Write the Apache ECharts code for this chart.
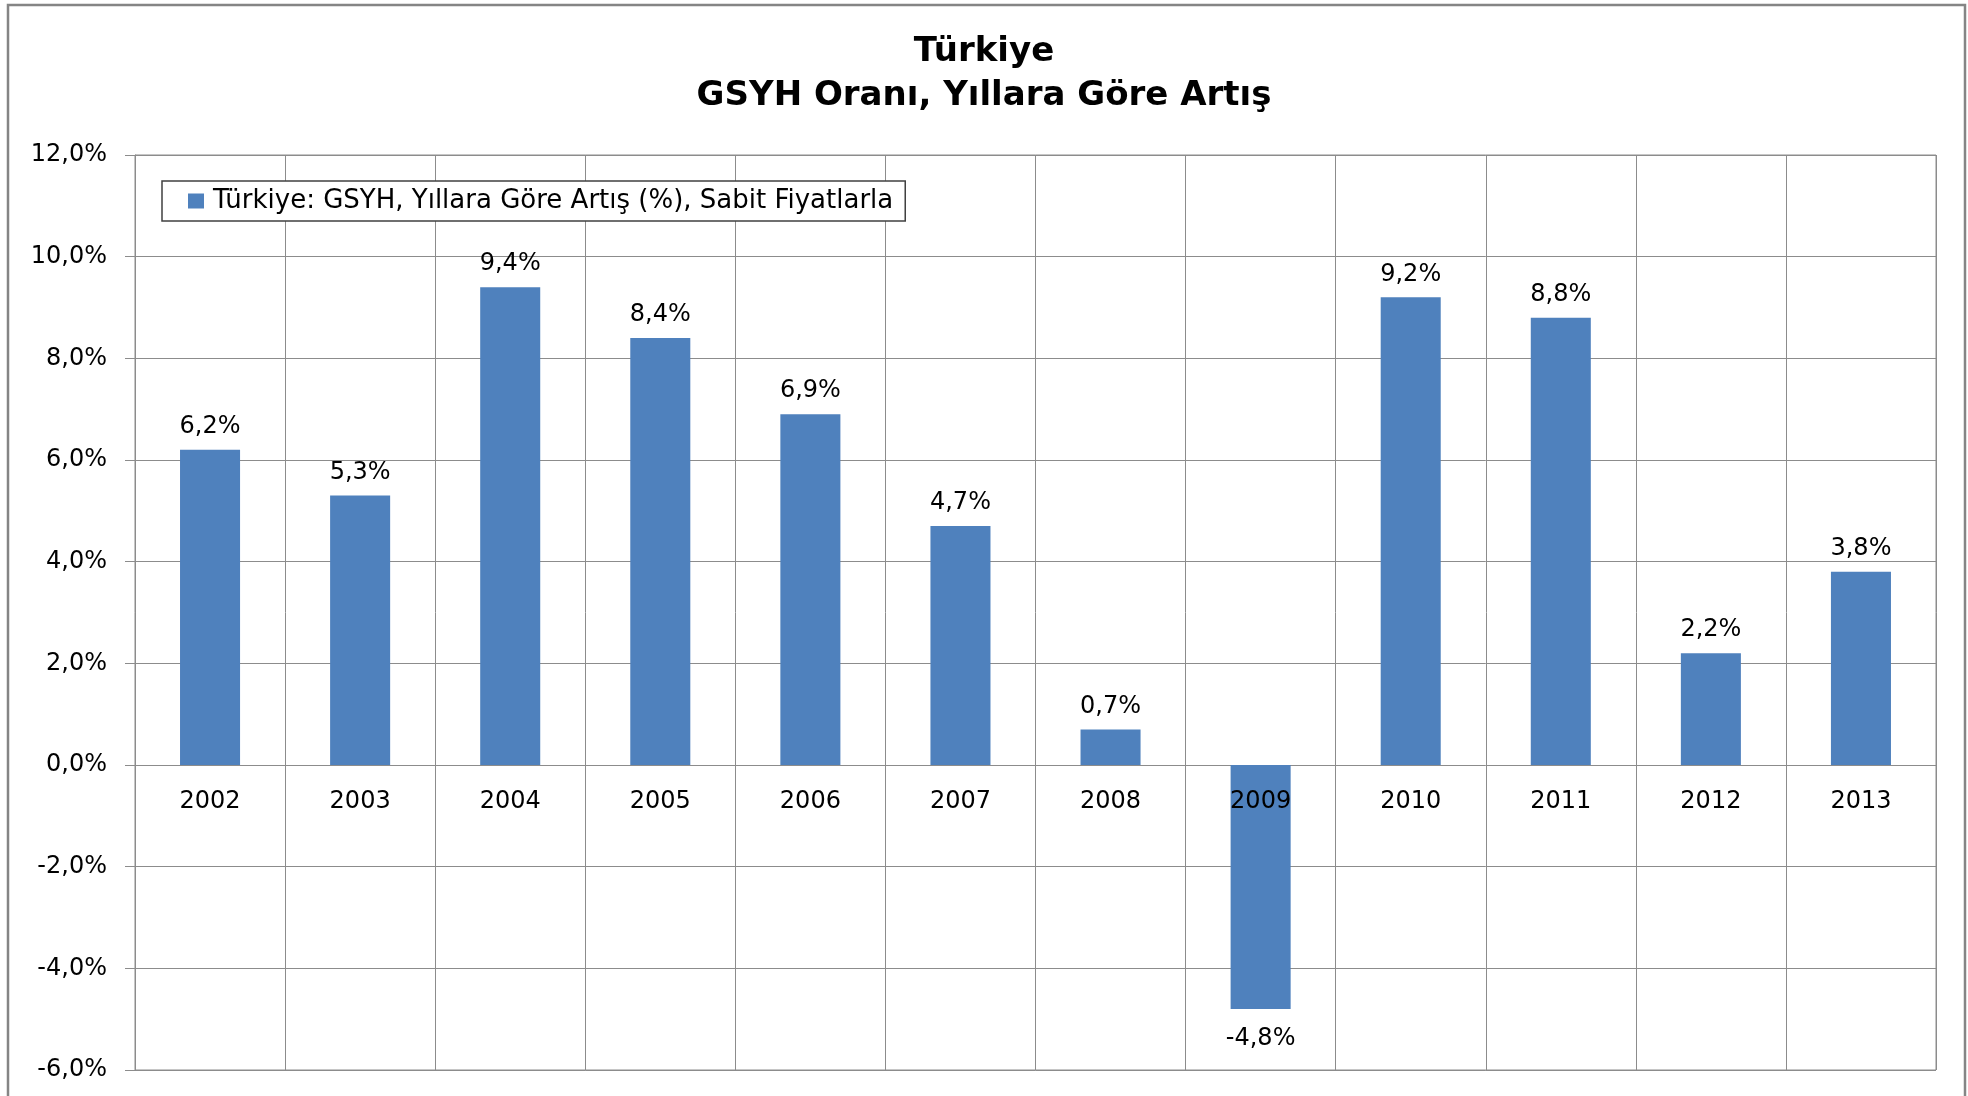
<!DOCTYPE html>
<html>
<head>
<meta charset="utf-8">
<script src="https://cdn.jsdelivr.net/npm/echarts@6/dist/echarts.min.js"></script>
<style>
    html, body { margin: 0; padding: 0; background: #fff; }
    #chart { width: 1968px; height: 1096px; }
</style>
</head>
<body>
<div id="chart"></div>
<script>
    // yillar ve buyume oranlari (%)
    var years = ['2002', '2003', '2004', '2005', '2006', '2007', '2008', '2009', '2010', '2011', '2012', '2013'];
    var growth = [6.2, 5.3, 9.4, 8.4, 6.9, 4.7, 0.7, -4.8, 9.2, 8.8, 2.2, 3.8];
    var seriesName = 'Türkiye: GSYH, Yıllara Göre Artış (%), Sabit Fiyatlarla';

    function pct(v) {
        return v.toFixed(1).replace('.', ',') + '%';
    }

    var gridColor = '#8c8c8c';
    var font = 'DejaVu Sans';
    var yMin = -6, yMax = 12;
    var gridTop = 155, gridBottom = 26;
    var myChart = echarts.init(document.getElementById('chart'));

    // x ekseni sifir cizgisine tasinir
    var gridH = myChart.getHeight() - gridTop - gridBottom;
    var zeroOffset = -gridH * (0 - yMin) / (yMax - yMin);

    // negatif cubugun etiketi alta
    var barData = growth.map(function (v) {
        return {
            value: v,
            label: v < 0 ? { position: 'bottom', distance: 18 } : { position: 'top' }
        };
    });

    myChart.setOption({
        backgroundColor: '#fff',
        animation: false,
        graphic: [{
            type: 'rect',
            shape: { x: 8, y: 5, width: 1957, height: 1110 },
            style: { fill: 'none', stroke: '#858585', lineWidth: 2.5 },
            silent: true
        }],
        title: {
            text: 'Türkiye\nGSYH Oranı, Yıllara Göre Artış',
            left: 'center',
            top: 25,
            textStyle: {
                fontFamily: font,
                fontWeight: 'bold',
                fontSize: 34,
                lineHeight: 44,
                color: '#000'
            }
        },
        legend: {
            left: 162,
            top: 181,
            orient: 'horizontal',
            padding: [7, 12, 7, 26],
            borderColor: '#404040',
            borderWidth: 1.5,
            backgroundColor: '#fff',
            icon: 'rect',
            itemWidth: 16,
            itemHeight: 15,
            textStyle: { fontFamily: font, fontSize: 26, color: '#000', padding: [0, 0, 0, 4] },
            data: [seriesName]
        },
        grid: {
            left: 135,
            right: 32,
            top: gridTop,
            bottom: gridBottom,
            outerBoundsMode: 'none',
            show: true,
            borderColor: gridColor,
            borderWidth: 1
        },
        xAxis: {
            type: 'category',
            data: years,
            z: 3,
            offset: zeroOffset,
            axisLine: { show: false, onZero: false },
            axisTick: { show: false },
            axisLabel: {
                margin: 25,
                fontFamily: font,
                fontSize: 24,
                color: '#000',
                interval: 0
            },
            splitLine: {
                show: true,
                interval: 0,
                lineStyle: { color: gridColor, width: 1 }
            }
        },
        yAxis: {
            type: 'value',
            min: yMin,
            max: yMax,
            interval: 2,
            axisLine: { show: true, lineStyle: { color: gridColor } },
            axisTick: { show: true, length: 10, lineStyle: { color: gridColor } },
            axisLabel: {
                margin: 28,
                fontFamily: font,
                fontSize: 24,
                color: '#000',
                formatter: pct
            },
            splitLine: { lineStyle: { color: gridColor, width: 1 } }
        },
        series: [{
            name: seriesName,
            type: 'bar',
            barWidth: '40%',
            itemStyle: { color: '#4f81bd' },
            label: {
                show: true,
                distance: 11,
                fontFamily: font,
                fontSize: 24,
                color: '#000',
                formatter: function (p) { return pct(p.value); }
            },
            data: barData
        }]
    });
</script>
</body>
</html>
